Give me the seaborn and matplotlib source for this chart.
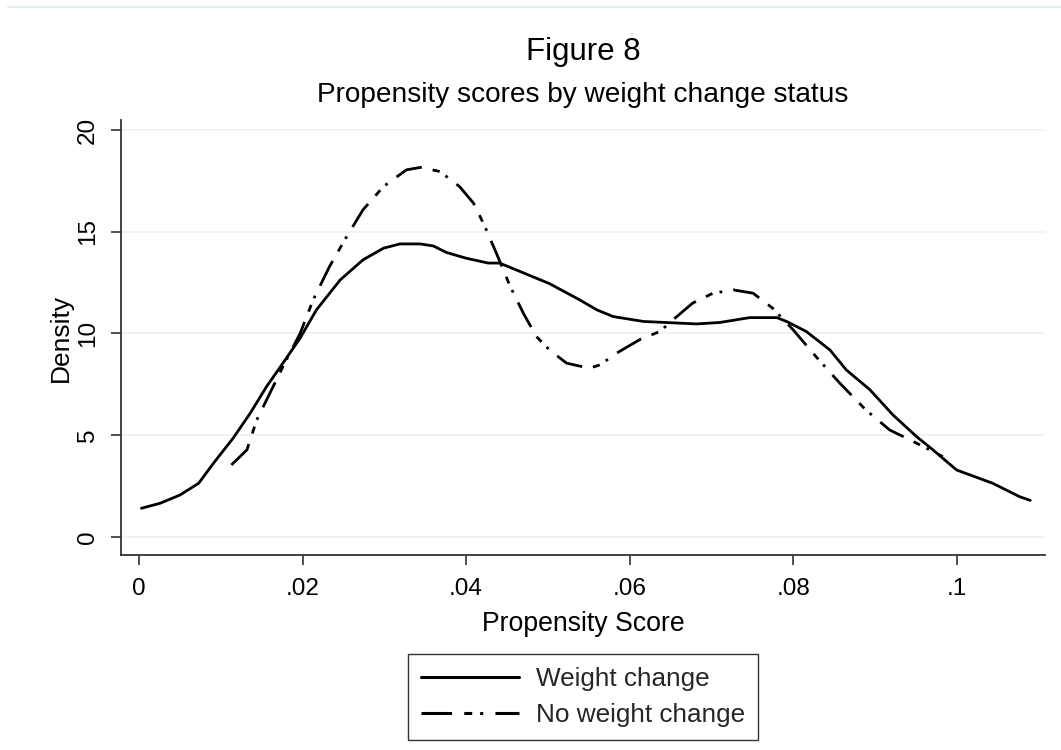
import matplotlib
matplotlib.use("Agg")
import matplotlib.pyplot as plt
import seaborn as sns
import pandas as pd
from matplotlib.lines import Line2D

# Data (kernel density curves)
wc_x = [0.0003, 0.0026, 0.005, 0.0073, 0.0091, 0.0115, 0.0136, 0.0156, 0.0176, 0.0197,
        0.0217, 0.0246, 0.0274, 0.0299, 0.0319, 0.0344, 0.036, 0.0376, 0.040, 0.0427,
        0.0441, 0.0502, 0.0539, 0.056, 0.058, 0.0617, 0.0682, 0.071, 0.0747, 0.078,
        0.0792, 0.0816, 0.0845, 0.0865, 0.0894, 0.0922, 0.0951, 0.0971, 0.100, 0.1044,
        0.1077, 0.109]
wc_y = [1.41, 1.66, 2.06, 2.64, 3.62, 4.85, 6.08, 7.39, 8.54, 9.77,
        11.16, 12.63, 13.62, 14.19, 14.40, 14.40, 14.30, 13.98, 13.70, 13.46,
        13.46, 12.45, 11.65, 11.16, 10.83, 10.59, 10.47, 10.54, 10.78, 10.78,
        10.59, 10.10, 9.19, 8.21, 7.23, 6.00, 4.93, 4.28, 3.29, 2.64,
        1.98, 1.80]

nwc_x = [0.0113, 0.0132, 0.0144, 0.016, 0.0176, 0.0197, 0.0213, 0.0233, 0.0254, 0.0274,
         0.0299, 0.0327, 0.0344, 0.0368, 0.0392, 0.0409, 0.0423, 0.0437, 0.0454, 0.047,
         0.0486, 0.0502, 0.0523, 0.0551, 0.0564, 0.0584, 0.0612, 0.0637, 0.0653, 0.0677,
         0.0702, 0.0727, 0.0751, 0.0775, 0.080, 0.0828, 0.0857, 0.0889, 0.0918, 0.0951,
         0.0983]
nwc_y = [3.54, 4.28, 5.75, 7.06, 8.37, 10.0, 11.65, 13.29, 14.76, 16.08,
         17.22, 18.04, 18.16, 17.96, 17.22, 16.41, 15.26, 13.95, 12.31, 11.0,
         9.85, 9.19, 8.54, 8.29, 8.46, 9.03, 9.69, 10.10, 10.67, 11.49,
         11.98, 12.14, 11.98, 11.24, 10.18, 8.86, 7.56, 6.24, 5.26, 4.61,
         3.95]

x_ticks = [0, 0.02, 0.04, 0.06, 0.08, 0.1]
x_tick_labels = ["0", ".02", ".04", ".06", ".08", ".1"]
y_ticks = [0, 5, 10, 15, 20]
y_tick_labels = ["0", "5", "10", "15", "20"]
series_names = ["Weight change", "No weight change"]

sns.set_theme(style="white")
plt.rcParams['font.family'] = ['Liberation Sans', 'DejaVu Sans']

DASHDOT = (0, (10, 4, 2.6, 2.6, 1, 4))

fig = plt.figure(figsize=(10.61, 7.5), dpi=100)
ax = fig.add_axes([121/1061, 1 - 555/750, (1045-121)/1061, (555-120)/750])

df_wc = pd.DataFrame({"x": wc_x, "y": wc_y})
df_nwc = pd.DataFrame({"x": nwc_x, "y": nwc_y})

sns.lineplot(data=df_wc, x="x", y="y", ax=ax, color="black", lw=2.0,
             sort=False, estimator=None)
sns.lineplot(data=df_nwc, x="x", y="y", ax=ax, color="black", lw=2.0,
             linestyle=DASHDOT, sort=False, estimator=None)

ax.set_xlim(-0.0022, 0.1108)
ax.set_ylim(-0.885, 20.49)
ax.set_xticks(x_ticks)
ax.set_xticklabels(x_tick_labels)
ax.set_yticks(y_ticks)
ax.set_yticklabels(y_tick_labels, rotation=90, va="center")
ax.tick_params(axis="both", labelsize=17.5, length=7, width=1.2, color="#333333",
               direction="out", bottom=True, left=True, labelcolor="black")
ax.tick_params(axis="x", pad=9.5)
ax.tick_params(axis="y", pad=9)
ax.grid(axis="y", color="#eaf2f3", lw=1.2)
ax.grid(axis="x", visible=False)
for s in ["top", "right"]:
    ax.spines[s].set_visible(False)
for s in ["left", "bottom"]:
    ax.spines[s].set_color("#333333")
    ax.spines[s].set_linewidth(1.3)

ax.set_xlabel("Propensity Score", fontsize=19.2, color="black", labelpad=8)
ax.set_ylabel("Density", fontsize=19, color="black", labelpad=3)

fig.text(583/1061, 1 - 60/750, "Figure 8", ha="center", va="baseline", fontsize=22.5, color="black")
fig.text(583/1061, 1 - 102/750, "Propensity scores by weight change status", ha="center",
         va="baseline", fontsize=20.2, color="black")

handles = [Line2D([0], [0], color="black", lw=2.2),
           Line2D([0], [0], color="black", lw=2.2, linestyle=DASHDOT)]
leg = fig.legend(handles, series_names, loc="center", bbox_to_anchor=(583/1061, 1 - 697/750),
                 fontsize=18.8, frameon=True, fancybox=False, edgecolor="black",
                 handlelength=3.75, borderpad=0.5, labelspacing=0.45, handletextpad=0.65)
leg.get_frame().set_linewidth(1.0)

fig.add_artist(Line2D([8/1061, 1], [1 - 7/750, 1 - 7/750], color="#e6eeee", lw=1.5))

fig.savefig("out.png", dpi=100, facecolor="white")
